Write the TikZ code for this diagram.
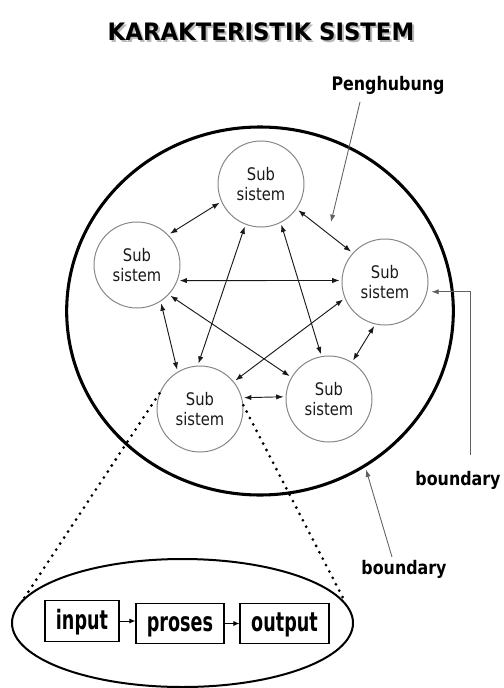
\documentclass[tikz,border=0pt]{standalone}
\usepackage{fontspec}
\setmainfont{DejaVu Sans}
\newfontfamily\condfont[FakeStretch=0.85]{DejaVu Sans}
\newfontfamily\boxfont[FakeStretch=0.66]{DejaVu Sans}
\newfontfamily\titlefont[FakeStretch=0.95]{DejaVu Sans}
\usetikzlibrary{arrows.meta,shapes.geometric}
\begin{document}
\begin{tikzpicture}[x=0.75pt,y=-0.75pt,
  sub/.style={circle,draw=gray!95,line width=0.75pt,minimum size=64.5pt,inner sep=0pt,align=center,
    font=\condfont\fontsize{13}{15}\selectfont,text=black!90},
  link/.style={{Latex[length=5.5pt,width=4pt]}-{Latex[length=5.5pt,width=4pt]},line width=0.7pt,black!90,
    shorten <=1.5pt,shorten >=1.5pt},
  lbl/.style={font=\condfont\fontsize{14}{16}\selectfont\bfseries},
  pointer/.style={-{Latex[length=5.5pt,width=4pt]},gray!75!black,line width=0.65pt},
  box/.style={draw,line width=0.85pt,minimum height=30.5pt,inner sep=0pt,text height=14pt,text depth=2pt,
    font=\boxfont\fontsize{20}{22}\selectfont\bfseries},
  flow/.style={-{Latex[length=4.5pt,width=3.8pt]},line width=0.75pt},
  dots/.style={line width=2.3pt,line cap=round,dash pattern=on 0pt off 5.4pt},
  ttl/.style={font=\titlefont\fontsize{18}{20}\selectfont\bfseries}
]
\useasboundingbox (0,0) rectangle (503,688);

% title with shadow
\node[ttl,text=gray!55] (tshadow) at (263,34) {KARAKTERISTIK SISTEM};
\node[ttl] (title) at (261,32) {KARAKTERISTIK SISTEM};

% system boundary
\node[ellipse,draw,line width=2.3pt,minimum width=290pt,minimum height=276pt,inner sep=0pt] (C) at (260,311) {};

% sub systems
\node[sub] (T)  at (261,184) {Sub\\sistem};
\node[sub] (L)  at (137,265) {Sub\\sistem};
\node[sub] (R)  at (385,282) {Sub\\sistem};
\node[sub] (BL) at (200,409) {Sub\\sistem};
\node[sub] (BR) at (329,399) {Sub\\sistem};

% connections
\draw[link] (T.204) -- (L.44);
\draw[link] (T.-35) -- (R.138);
\draw[link] (L.-21) -- (R.178);
\draw[link] (T.-111) -- (BL.93);
\draw[link] (T.-63) -- (BR.100);
\draw[link] (L.-57) -- (BL.121);
\draw[link] (L.-43) -- (BR.150);
\draw[link] (R.202) -- (BL.39);
\draw[link] (R.257) -- (BR.58);
\draw[link] (BL.15.6) -- (BR.177);

% labels
\node[lbl] (P) at (388,85) {Penghubung};
\coordinate (Pfoot) at (360,102);
\coordinate (Ptip) at (331,222);
\draw[pointer] (Pfoot) -- (Ptip);

\node[lbl] (B1) at (458,480) {boundary};
\coordinate (B1top) at (470,455);
\draw[pointer,shorten >=3pt] (B1top) |- (R.-13);

\node[lbl] (B2) at (404,569) {boundary};
\coordinate (B2foot) at (392,557);
\draw[pointer,shorten >=2pt] (B2foot) -- (C.-56);

% zoomed sub system
\node[ellipse,draw,line width=1.5pt,minimum width=255.75pt,minimum height=96pt,inner sep=0pt] (E) at (182.5,623) {};
\draw[dots] (BL.159) -- (E.171);
\draw[dots] (BL.5) -- (E.7);

\node[box,minimum width=55.5pt] (in) at (82,621) {input};
\node[box,minimum width=66pt] (pr) at (180,623.5) {proses};
\node[box,minimum width=66.75pt] (out) at (284.5,623.5) {output};
\draw[flow] (in.east) -- (in.east -| pr.west);
\draw[flow] (pr.east) -- (out.west);
\end{tikzpicture}
\end{document}
